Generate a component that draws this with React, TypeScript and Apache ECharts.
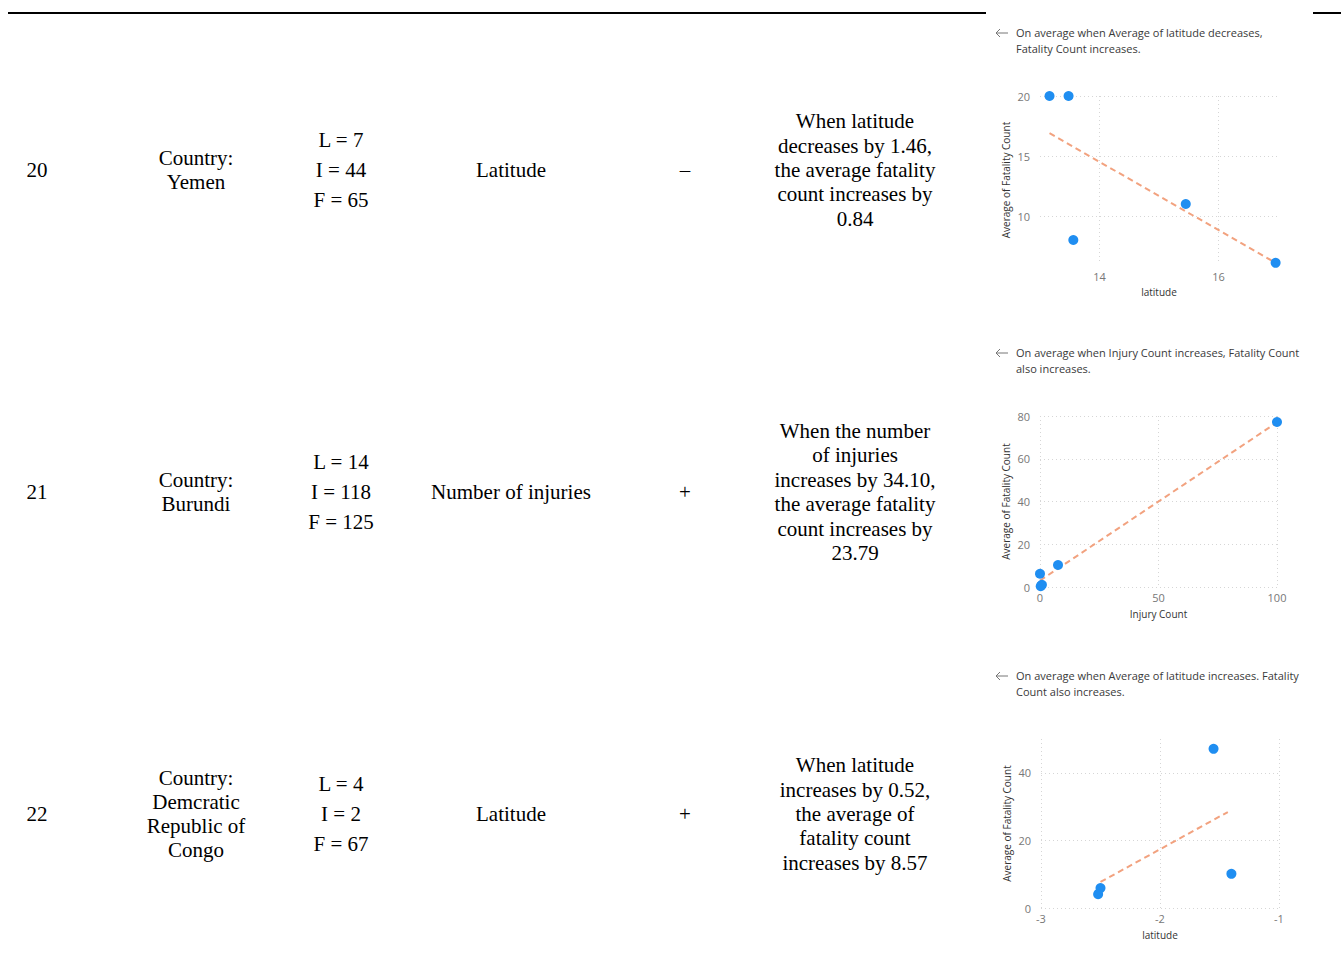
import React, { useEffect, useRef } from 'react';
import * as echarts from 'echarts';

// ---------- table content ----------
const rowIds = ['20', '21', '22'];
const countries = ['Country:\nYemen', 'Country:\nBurundi', 'Country:\nDemcratic\nRepublic of\nCongo'];
const lifValues = ['L = 7\nI = 44\nF = 65', 'L = 14\nI = 118\nF = 125', 'L = 4\nI = 2\nF = 67'];
const factors = ['Latitude', 'Number of injuries', 'Latitude'];
const signs = ['–', '+', '+'];
const descriptions = [
  'When latitude\ndecreases by 1.46,\nthe average fatality\ncount increases by\n0.84',
  'When the number\nof injuries\nincreases by 34.10,\nthe average fatality\ncount increases by\n23.79',
  'When latitude\nincreases by 0.52,\nthe average of\nfatality count\nincreases by 8.57',
];

// ---------- chart content ----------
const insights = [
  'On average when Average of latitude decreases,\nFatality Count increases.',
  'On average when Injury Count increases, Fatality Count\nalso increases.',
  'On average when Average of latitude increases. Fatality\nCount also increases.',
];
const xNames = ['latitude', 'Injury Count', 'latitude'];
const yName = 'Average of Fatality Count';

const yemenPoints = [[13.16, 20], [13.48, 20], [13.56, 8], [15.45, 11], [16.96, 6.1]];
const yemenTrend = [[13.16, 16.9], [16.96, 6.1]];
const burundiPoints = [[100, 77.2], [7.6, 10.3], [0, 6.2], [0.8, 1], [0.3, 0.4]];
const burundiTrend = [[0, 3], [100, 77]];
const congoPoints = [[-1.55, 47.1], [-1.4, 10.1], [-2.5, 5.9], [-2.52, 4.1]];
const congoTrend = [[-2.5, 7.7], [-1.43, 28.4]];

const xMins = [13, 0, -3];
const xMaxs = [17, 100, -1];
const yMins = [6, 0, 0];
const yMaxs = [20, 80, 50];
const xTickValues = [[14, 16], [0, 50, 100], [-3, -2, -1]];
const yTickValues = [[10, 15, 20], [0, 20, 40, 60, 80], [0, 20, 40]];

const pointSets = [yemenPoints, burundiPoints, congoPoints];
const trendSets = [yemenTrend, burundiTrend, congoTrend];

// ---------- layout ----------
const rowCenters = [170, 492, 814];
const colX = { id: 37, country: 196, lif: 341, factor: 511, sign: 685, desc: 855 };
const grids = [
  { left: 1040, top: 96, width: 238, height: 168, labelMargin: 7, nameGap: 23 },
  { left: 1040, top: 416, width: 237, height: 171, labelMargin: 5, nameGap: 22 },
  { left: 1041, top: 739, width: 238, height: 169, labelMargin: 5, nameGap: 22 },
];
const titleTops = [33, 353, 676];

const SERIF = '"Liberation Serif", "Times New Roman", serif';
const SANS = '"Open Sans", "Noto Sans", sans-serif';
const BLUE = '#1F8EF1';
const TREND = '#F2A27F';
const GRIDLINE = '#D6D6D6';

export default function App() {
  const ref = useRef<HTMLDivElement>(null);

  useEffect(() => {
    if (!ref.current) return;
    const chart = echarts.init(ref.current, undefined, { renderer: 'svg' });

    const graphic: any[] = [];
    // top rules
    graphic.push({ type: 'line', shape: { x1: 8, y1: 13, x2: 986, y2: 13 }, style: { stroke: '#000', lineWidth: 2 } });
    graphic.push({ type: 'line', shape: { x1: 1313, y1: 13, x2: 1341, y2: 13 }, style: { stroke: '#000', lineWidth: 2 } });

    const cell = (x: number, y: number, text: string, lh: number) => ({
      type: 'text',
      x,
      y,
      style: {
        text,
        fill: '#000',
        font: `21px ${SERIF}`,
        lineHeight: lh,
        align: 'center',
        verticalAlign: 'middle',
      },
    });

    rowCenters.forEach((cy, i) => {
      graphic.push(cell(colX.id, cy, rowIds[i], 24));
      graphic.push(cell(colX.country, cy, countries[i], 24.3));
      graphic.push(cell(colX.lif, cy, lifValues[i], 30));
      graphic.push(cell(colX.factor, cy, factors[i], 24));
      graphic.push(cell(colX.sign, cy, signs[i], 24));
      graphic.push(cell(colX.desc, cy, descriptions[i], 24.4));
    });

    titleTops.forEach((ty, i) => {
      graphic.push({
        type: 'polyline',
        shape: { points: [[1000, ty - 4], [996, ty], [1000, ty + 4]] },
        style: { stroke: '#777', lineWidth: 1, fill: 'none' },
      });
      graphic.push({
        type: 'line',
        shape: { x1: 996, y1: ty, x2: 1008, y2: ty },
        style: { stroke: '#777', lineWidth: 1 },
      });
      graphic.push({
        type: 'text',
        x: 1016,
        y: ty - 8,
        style: {
          text: insights[i],
          fill: '#3a3a3a',
          font: `11px ${SANS}`,
          lineHeight: 15.5,
          align: 'left',
          verticalAlign: 'top',
        },
      });
    });

    const xAxis = grids.map((g, i) => ({
      type: 'value',
      gridIndex: i,
      min: xMins[i],
      max: xMaxs[i],
      name: xNames[i],
      nameLocation: 'middle',
      nameGap: g.nameGap,
      nameTextStyle: { color: '#333', fontSize: 10, fontFamily: SANS },
      axisLine: { show: false },
      axisTick: { show: false, customValues: xTickValues[i] },
      axisLabel: { customValues: xTickValues[i], color: '#777', fontSize: 11, fontFamily: SANS, margin: g.labelMargin },
      splitLine: { show: true, lineStyle: { color: GRIDLINE, type: [1, 3], width: 1 } },
    }));
    const yAxis = grids.map((g, i) => ({
      type: 'value',
      gridIndex: i,
      min: yMins[i],
      max: yMaxs[i],
      name: yName,
      nameLocation: 'middle',
      nameGap: 29,
      nameTextStyle: { color: '#333', fontSize: 10, fontFamily: SANS },
      axisLine: { show: false },
      axisTick: { show: false, customValues: yTickValues[i] },
      axisLabel: { customValues: yTickValues[i], color: '#777', fontSize: 11, fontFamily: SANS, margin: 10 },
      splitLine: { show: true, lineStyle: { color: GRIDLINE, type: [1, 3], width: 1 } },
    }));

    const series: any[] = [];
    grids.forEach((g, i) => {
      series.push({
        type: 'line',
        xAxisIndex: i,
        yAxisIndex: i,
        data: trendSets[i],
        symbol: 'none',
        lineStyle: { color: TREND, width: 2, type: [6, 4] },
        z: 2,
      });
      series.push({
        type: 'scatter',
        xAxisIndex: i,
        yAxisIndex: i,
        data: pointSets[i],
        symbolSize: 10,
        itemStyle: { color: BLUE, opacity: 1 },
        clip: true,
        z: 3,
      });
    });

    chart.setOption({
      animation: false,
      backgroundColor: '#fff',
      grid: grids.map((g) => ({ left: g.left, top: g.top, width: g.width, height: g.height, containLabel: false })),
      xAxis,
      yAxis,
      series,
      graphic,
    });

    return () => chart.dispose();
  }, []);

  return (
    <div
      ref={ref}
      style={{ position: 'absolute', left: 0, top: 0, width: 1341, height: 968, background: '#fff' }}
    />
  );
}
